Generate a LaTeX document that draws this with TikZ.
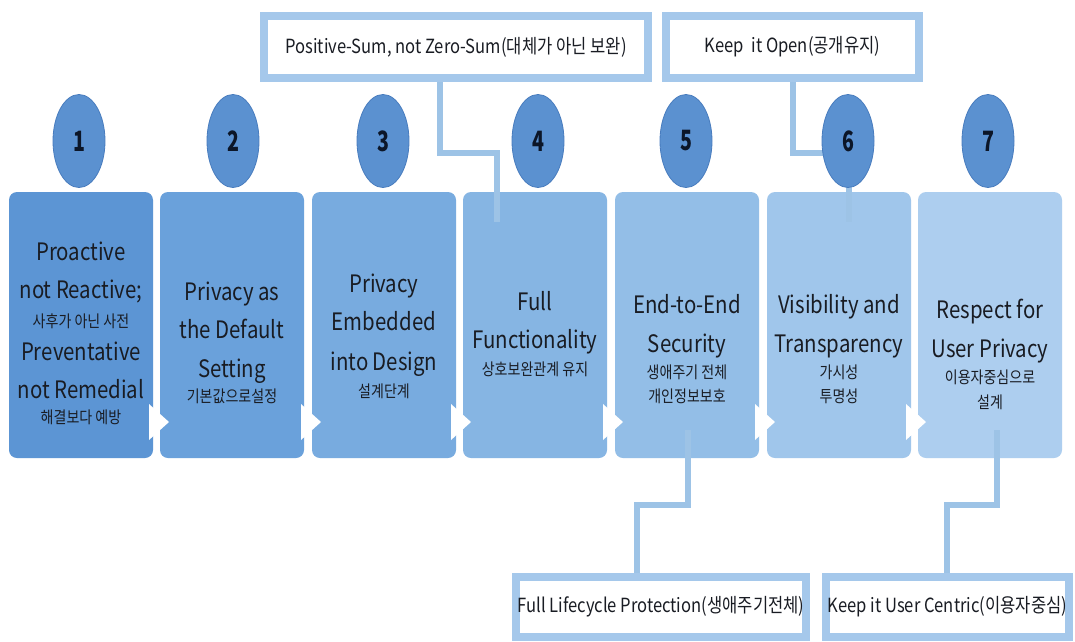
\documentclass[tikz,border=0pt]{standalone}
\usepackage{fontspec}
\setmainfont{Noto Sans CJK KR}[FakeStretch=0.85]
\newfontfamily\numfont{Noto Sans CJK KR}[FakeStretch=0.7]
\usetikzlibrary{shapes.geometric}
\definecolor{bA}{RGB}{92,149,212}
\definecolor{bB}{RGB}{106,161,219}
\definecolor{bC}{RGB}{120,171,223}
\definecolor{bD}{RGB}{134,181,227}
\definecolor{bE}{RGB}{147,190,231}
\definecolor{bF}{RGB}{160,198,235}
\definecolor{bG}{RGB}{173,206,239}
\definecolor{circ}{RGB}{91,145,208}
\definecolor{circd}{RGB}{72,124,190}
\definecolor{lnk}{RGB}{157,195,230}
\definecolor{frm}{RGB}{165,200,235}
\definecolor{txt}{RGB}{25,28,35}
\definecolor{navy}{RGB}{12,22,40}
\pgfdeclarelayer{back}
\pgfdeclarelayer{mid}
\pgfsetlayers{back,mid,main}
\begin{document}
\begin{tikzpicture}[x=1pt,y=-1pt,
  pbox/.style={rounded corners=8pt, minimum width=144pt, minimum height=266pt, inner sep=0pt},
  num/.style={ellipse, minimum width=52pt, minimum height=93pt, fill=circ, draw=circd, line width=0.8pt, inner sep=0pt, text=navy, font=\numfont\bfseries\fontsize{28}{28}\selectfont},
  en/.style={anchor=base, inner sep=0pt, text=txt, font=\fontsize{24}{24}\selectfont},
  ko/.style={anchor=base, inner sep=0pt, text=txt, font=\fontsize{16.5}{16.5}\selectfont},
  frame/.style={draw=frm, line width=8pt, fill=white, inner sep=0pt, text=txt, font=\fontsize{19.5}{19.5}\selectfont},
  link/.style={draw=lnk, line width=6pt},
  tri/.style={fill=white}
]
\useasboundingbox (0,0) rectangle (1075,641);

% boxes
\begin{pgfonlayer}{back}
\fill[white] (0,0) rectangle (1075,641);
\node[pbox, fill=bA] (b1) at (81,325) {};
\node[pbox, fill=bB] (b2) at (232,325) {};
\node[pbox, fill=bC] (b3) at (384,325) {};
\node[pbox, fill=bD] (b4) at (535,325) {};
\node[pbox, fill=bE] (b5) at (687,325) {};
\node[pbox, fill=bF] (b6) at (839,325) {};
\node[pbox, fill=bG] (b7) at (990,325) {};
\end{pgfonlayer}

% frames (labels)
\node[frame, minimum width=384pt, minimum height=62pt] (ps) at (456,47) {Positive-Sum, not Zero-Sum(대체가 아닌 보완)};
\node[frame, minimum width=253pt, minimum height=62pt] (ko) at (792.5,47) {Keep\hspace{0.2em} it Open(공개유지)};
\node[frame, minimum width=290pt, minimum height=60pt] (fl) at (661,607) {Full Lifecycle Protection(생애주기전체)};
\node[frame, minimum width=243pt, minimum height=60pt] (uc) at (947.5,607) {Keep it User Centric(이용자중심)};

% connectors
\coordinate (p1) at (440,153);
\coordinate (p2) at (497,153);
\coordinate (p3) at (497,222);
\coordinate (o1) at (793,153);
\coordinate (o2) at (849,153);
\coordinate (o3) at (849,222);
\coordinate (f0) at (688,430);
\coordinate (f1) at (688,505);
\coordinate (f2) at (637,505);
\coordinate (u0) at (997,430);
\coordinate (u1) at (997,505);
\coordinate (u2) at (947,505);
\begin{pgfonlayer}{mid}
\draw[link] (ps.south -| p1) -- (p1) -- (p2) -- (p3);
\draw[link] (ko.south -| o1) -- (o1) -- (o2) -- (o3);
\draw[link] (f0) -- (f1) -- (f2) -- (fl.north -| f2);
\draw[link] (u0) -- (u1) -- (u2) -- (uc.north -| u2);
\end{pgfonlayer}

% white arrow triangles
\foreach \r in {153,305,455,607,759,910}{
  \fill[tri] (\r-4,404) -- (\r-4,440) -- (\r+16,422) -- cycle;
}

% number circles
\node[num] (n1) at (79,141) {1};
\node[num] (n2) at (233,141) {2};
\node[num] (n3) at (383,141) {3};
\node[num] (n4) at (538,141) {4};
\node[num] (n5) at (686,141) {5};
\node[num] (n6) at (848,141) {6};
\node[num] (n7) at (988,141) {7};

% box texts
\node[en] (t1a) at (81,260) {Proactive};
\node[en] (t1b) at (81,298) {not Reactive;};
\node[ko] (t1c) at (81,327) {사후가 아닌 사전};
\node[en] (t1d) at (81,360) {Preventative};
\node[en] (t1e) at (81,398) {not Remedial};
\node[ko] (t1f) at (81,423) {해결보다 예방};

\node[en] (t2a) at (232,300) {Privacy as};
\node[en] (t2b) at (232,338) {the Default};
\node[en] (t2c) at (232,377) {Setting};
\node[ko] (t2d) at (232,402) {기본값으로설정};

\node[en] (t3a) at (384,292) {Privacy};
\node[en] (t3b) at (384,330) {Embedded};
\node[en] (t3c) at (384,370) {into Design};
\node[ko] (t3d) at (384,397) {설계단계};

\node[en] (t4a) at (535,310) {Full};
\node[en] (t4b) at (535,348) {Functionality};
\node[ko] (t4c) at (535,375) {상호보완관계 유지};

\node[en] (t5a) at (687,313) {End-to-End};
\node[en] (t5b) at (687,352) {Security};
\node[ko] (t5c) at (687,378) {생애주기 전체};
\node[ko] (t5d) at (687,402) {개인정보보호};

\node[en] (t6a) at (839,313) {Visibility and};
\node[en] (t6b) at (839,352) {Transparency};
\node[ko] (t6c) at (839,378) {가시성};
\node[ko] (t6d) at (839,402) {투명성};

\node[en] (t7a) at (990,318) {Respect for};
\node[en] (t7b) at (990,357) {User Privacy};
\node[ko] (t7c) at (990,383) {이용자중심으로};
\node[ko] (t7d) at (990,408) {설계};
\end{tikzpicture}
\end{document}
